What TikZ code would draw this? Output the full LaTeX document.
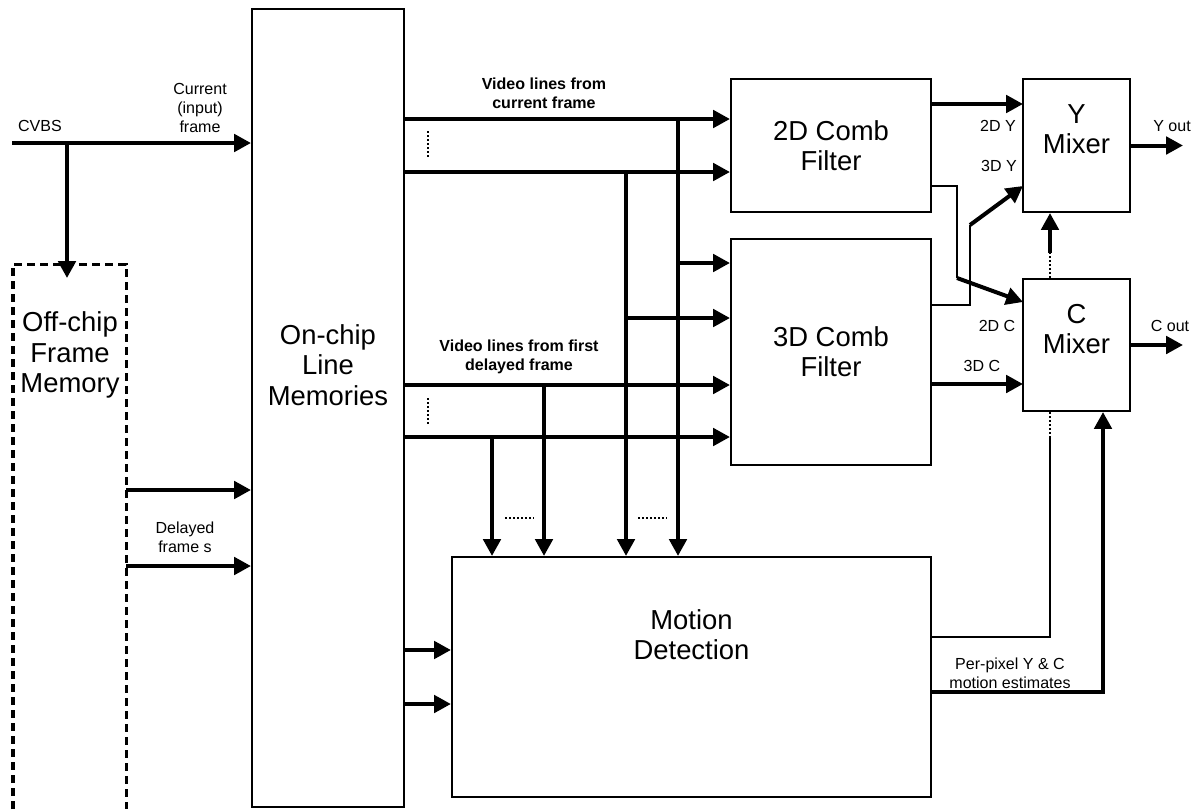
\documentclass[tikz,border=0pt]{standalone}
\usepackage{fontspec}
\setmainfont{Liberation Sans}
\usepackage{tikz}
\usetikzlibrary{arrows.meta}

\begin{document}
\begin{tikzpicture}[
                x=0.025cm, y=-0.025cm,
                blk/.style={draw, line width=0.05cm, inner sep=0pt},
                big/.style={font=\fontsize{19.5}{21.6}\selectfont, align=center},
                small/.style={font=\fontsize{11.4}{13.5}\selectfont, align=center},
                bold/.style={font=\fontsize{11.4}{13.5}\selectfont\bfseries, align=center},
                arr/.style={-{Triangle[length=0.42cm, width=0.43cm]}, line width=0.1cm},
                thn/.style={line width=0.05cm},
                dots/.style={line width=0.04cm, dash pattern=on 0.04cm off 0.06cm},
                fdash/.style={line width=0.075cm, dash pattern=on 0.2cm off 0.125cm}
                ]
                \useasboundingbox (0,0) rectangle (1197,809);

                % blocks
                \node[blk, minimum width=3.8cm, minimum height=19.95cm] (lmem) at (328,408) {};
                \node[blk, minimum width=5cm, minimum height=3.325cm, big] (comb2d) at (831,145.5) {2D Comb\\Filter};
                \node[blk, minimum width=5cm, minimum height=5.65cm, big] (comb3d) at (831,352) {3D Comb\\Filter};
                \node[blk, minimum width=2.675cm, minimum height=3.325cm] (ymix) at (1076.5,145.5) {};
                \node[blk, minimum width=2.675cm, minimum height=3.3cm] (cmix) at (1076.5,345) {};
                \node[blk, minimum width=11.975cm, minimum height=6cm] (motdet) at (691.5,677) {};

                % block texts
                \node[big] (lmemlbl) at ([yshift=1.075cm]lmem.center) {On-chip\\Line\\Memories};
                \node[big] (ymixlbl) at ([yshift=0.4cm]ymix.center) {Y\\Mixer};
                \node[big] (cmixlbl) at ([yshift=0.4cm]cmix.center) {C\\Mixer};
                \node[big] (motdetlbl) at ([yshift=1.05cm]motdet.center) {Motion\\Detection};

                % off-chip memory (open at the bottom)
                \draw[fdash] (13,809) |- (126,264) -- (126,809);
                \node[big] (fmem) at (70,355) {Off-chip\\Frame\\Memory};

                % input side
                \coordinate (cvbsin) at (12,143);
                \coordinate (split) at (67,143);
                \coordinate (fmemtop) at (67,264);
                \coordinate (dly1) at (126,490);
                \coordinate (dly2) at (126,566);
                \draw[arr] (cvbsin) -- (split) -- (lmem.west |- split);
                \draw[arr, shorten >=-0.35cm] (split) -- (fmemtop);
                \draw[arr] (dly1) -- (lmem.west |- dly1);
                \draw[arr] (dly2) -- (lmem.west |- dly2);

                \node[small] (lblcvbs) at (40,126) {CVBS};
                \node[small] (lblcur) at (200,108) {Current\\(input)\\frame};
                \node[small] (lbldly) at (185,537) {Delayed\\frame s};

                % line memory outputs
                \coordinate (v1) at (678,119);
                \coordinate (v2) at (626,172);
                \coordinate (v3) at (544,385);
                \coordinate (v4) at (492,437);
                \coordinate (b1) at (678,263);
                \coordinate (b2) at (626,318);
                \draw[arr] (lmem.east |- v1) -- (comb2d.west |- v1);
                \draw[arr] (lmem.east |- v2) -- (comb2d.west |- v2);
                \draw[arr] (lmem.east |- v3) -- (comb3d.west |- v3);
                \draw[arr] (lmem.east |- v4) -- (comb3d.west |- v4);
                \draw[arr] (b1) -- (comb3d.west |- b1);
                \draw[arr] (b2) -- (comb3d.west |- b2);
                \foreach \v in {v1, v2, v3, v4}
                    \draw[arr] (\v) -- (\v |- motdet.north);

                \coordinate (md1) at ([yshift=0.675cm]motdet.west);
                \coordinate (md2) at ([yshift=-0.675cm]motdet.west);
                \draw[arr] (lmem.east |- md1) -- (md1);
                \draw[arr] (lmem.east |- md2) -- (md2);

                % "more lines" marks
                \draw[dots] (428,131) -- (428,158);
                \draw[dots] (428,398) -- (428,425);
                \draw[dots] (505,518) -- (534,518);
                \draw[dots] (638,518) -- (667,518);

                \node[bold] (lblvcur) at (544,93) {Video lines from\\current frame};
                \node[bold] (lblvdly) at (519,357) {Video lines from first\\delayed frame};

                % comb filters to mixers
                \coordinate (y2d) at (1023,104);
                \coordinate (y3d) at (1023,186);
                \coordinate (cin2d) at (1023,302);
                \coordinate (cin3d) at (1023,384);
                \coordinate (bendA) at (957,278);
                \coordinate (bendB) at (970,225);
                \draw[arr] (comb2d.east |- y2d) -- (y2d);
                \draw[thn] (comb2d.east |- y3d) -| (bendA);
                \draw[arr] (bendA) -- (cin2d);
                \draw[thn] (comb3d.east |- 0,305) -| (bendB);
                \draw[arr] (bendB) -- (y3d);
                \draw[arr] (comb3d.east |- cin3d) -- (cin3d);

                \node[small] (lbly2d) at (998,126) {2D Y};
                \node[small] (lbly3d) at (999,166) {3D Y};
                \node[small] (lblc2d) at (997,326) {2D C};
                \node[small] (lblc3d) at (982,366) {3D C};

                % mixers
                \coordinate (cy) at (1050,253);
                \draw[dots] (cy |- cmix.north) -- (cy);
                \draw[arr] (cy) -- (cy |- ymix.south);

                \coordinate (yout) at (1183,145.5);
                \coordinate (cout) at (1183,345);
                \draw[arr] (ymix.east) -- (yout);
                \draw[arr] (cmix.east) -- (cout);
                \node[small] (lblyout) at (1172,126) {Y out};
                \node[small] (lblcout) at (1170,326) {C out};

                % motion estimates back to the mixers
                \coordinate (cd) at (1050,437);
                \coordinate (mdo1) at ([yshift=1cm]motdet.east);
                \coordinate (mdo2) at ([yshift=-0.375cm]motdet.east);
                \draw[dots] (cd |- cmix.south) -- (cd);
                \draw[line width=0.06cm] (cd) |- (mdo1);
                \draw[arr] (mdo2) -| ([xshift=0.6625cm]cmix.south);
                \node[small] (lblmot) at (1010,673) {Per-pixel Y \& C\\motion estimates};
            \end{tikzpicture}
\end{document}
